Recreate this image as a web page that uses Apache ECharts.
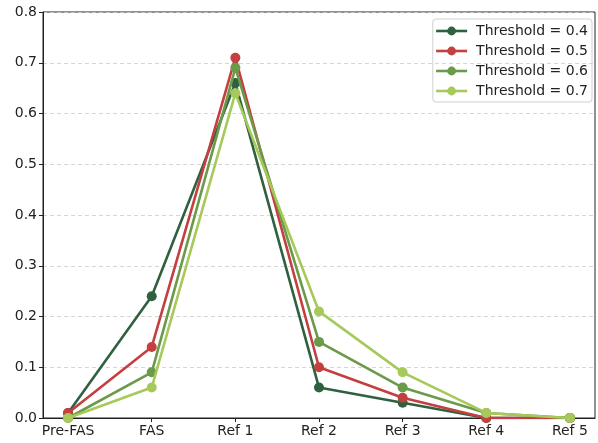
<!DOCTYPE html>
<html>
<head>
<meta charset="utf-8">
<script src="https://cdn.jsdelivr.net/npm/echarts@6/dist/echarts.min.js"></script>
<style>
html,body{margin:0;padding:0;background:#fff;}
#chart{width:598px;height:443px;}
</style>
</head>
<body>
<div id="chart"></div>
<script>
var categories = ['Pre-FAS', 'FAS', 'Ref 1', 'Ref 2', 'Ref 3', 'Ref 4', 'Ref 5'];
var seriesNames = ['Threshold = 0.4', 'Threshold = 0.5', 'Threshold = 0.6', 'Threshold = 0.7'];
var t04 = [0.01, 0.24, 0.66, 0.06, 0.03, 0.00, 0.00];
var t05 = [0.01, 0.14, 0.71, 0.10, 0.04, 0.00, 0.00];
var t06 = [0.00, 0.09, 0.69, 0.15, 0.06, 0.01, 0.00];
var t07 = [0.00, 0.06, 0.64, 0.21, 0.09, 0.01, 0.00];
var yTicks = [0, 0.1, 0.2, 0.3, 0.4, 0.5, 0.6, 0.7, 0.8];

var colors = ['#2f6140', '#c43f3f', '#6a9a4a', '#a6c95a'];
var allValues = [t04, t05, t06, t07];
var catIdx = categories.map(function (c, i) { return i; });

var chart = echarts.init(document.getElementById('chart'));
var font = 'DejaVu Sans';
var series = allValues.map(function (vals, s) {
  return {
    name: seriesNames[s],
    type: 'line',
    data: vals.map(function (v, i) { return [i, v]; }),
    symbol: 'circle',
    symbolSize: 10,
    color: colors[s],
    lineStyle: { width: 2.6, color: colors[s] },
    itemStyle: { color: colors[s] },
    z: 2 + s
  };
});

chart.setOption({
  animation: false,
  backgroundColor: '#fff',
  grid: { left: 43, right: 3, top: 12, bottom: 25, show: true, borderColor: '#222', borderWidth: 1, backgroundColor: 'transparent' },
  legend: {
    orient: 'vertical',
    right: 6,
    top: 19,
    itemWidth: 31,
    itemHeight: 11,
    itemGap: 6,
    padding: [5, 4, 4, 2],
    borderColor: '#d0d0d0',
    borderWidth: 1,
    borderRadius: 3,
    lineStyle: { width: 2.6 },
    textStyle: { fontFamily: font, fontSize: 14, color: '#222', padding: [0, 0, 0, 4] },
    data: seriesNames
  },
  xAxis: {
    type: 'value',
    min: -0.3,
    max: 6.3,
    axisLine: { show: true, onZero: false, lineStyle: { color: '#222', width: 1 } },
    axisTick: { show: true, customValues: catIdx, length: 4, lineStyle: { color: '#222' } },
    axisLabel: {
      customValues: catIdx,
      formatter: function (v) { return categories[Math.round(v)]; },
      fontFamily: font, fontSize: 14, color: '#222', margin: 6
    },
    splitLine: { show: false }
  },
  yAxis: {
    type: 'value',
    min: 0,
    max: 0.8,
    interval: 0.1,
    axisLine: { show: true, onZero: false, lineStyle: { color: '#222', width: 1 } },
    axisTick: { show: true, length: 4, lineStyle: { color: '#222' } },
    axisLabel: {
      formatter: function (v) { return v.toFixed(1); },
      fontFamily: font, fontSize: 14, color: '#222', margin: 6
    },
    splitLine: { show: true, lineStyle: { color: '#cccccc', type: [4, 3], width: 0.8 } }
  },
  series: series
});
</script>
</body>
</html>
